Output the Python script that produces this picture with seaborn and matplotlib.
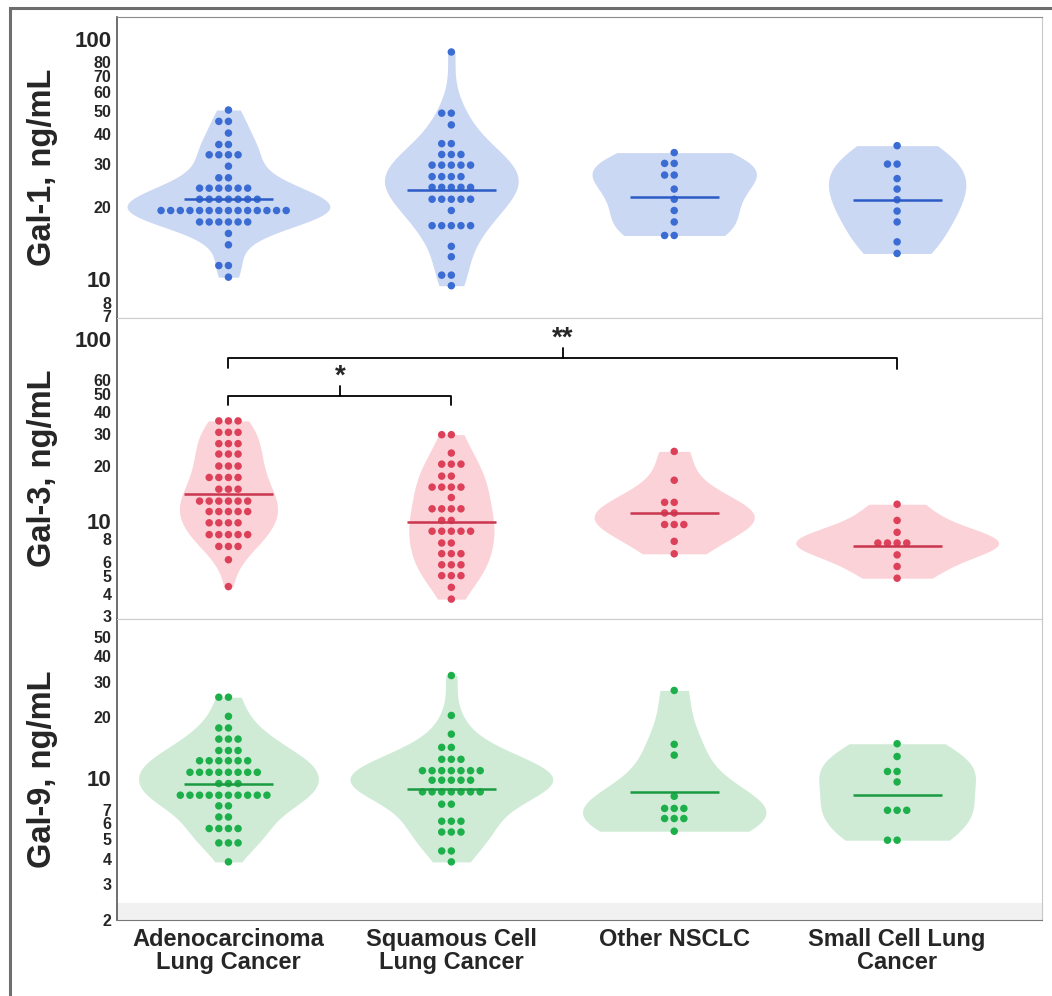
import numpy as np
import pandas as pd
import matplotlib
matplotlib.use("Agg")
import matplotlib.pyplot as plt
import seaborn as sns
from matplotlib.ticker import FixedLocator, FuncFormatter
from matplotlib.patches import Rectangle

# x categories
groups = ['Adenocarcinoma\nLung Cancer', 'Squamous Cell\nLung Cancer',
          'Other NSCLC', 'Small Cell Lung\nCancer']

# dot rows: value (ng/mL) of each row and number of dots in it
# Gal-1
gal1_adeno_levels = [50.5, 45.3, 40.5, 36.3, 32.9, 29.5, 26.4, 23.9, 21.5, 19.3, 17.3, 15.5, 13.9, 11.4, 10.2]
gal1_adeno_counts = [1, 2, 1, 2, 4, 1, 2, 6, 7, 14, 6, 1, 1, 2, 1]
gal1_squam_levels = [88.0, 49.0, 43.8, 36.6, 33.0, 29.8, 26.7, 24.1, 21.5, 19.3, 16.7, 13.7, 12.4, 10.4, 9.4]
gal1_squam_counts = [1, 2, 1, 2, 3, 5, 4, 5, 5, 1, 5, 1, 1, 2, 1]
gal1_other_levels = [33.6, 30.3, 27.1, 23.7, 21.5, 19.3, 17.3, 15.2]
gal1_other_counts = [1, 2, 2, 1, 1, 1, 1, 2]
gal1_small_levels = [35.9, 30.1, 26.2, 23.7, 21.4, 19.2, 17.3, 14.3, 12.8]
gal1_small_counts = [1, 2, 1, 1, 1, 1, 1, 1, 1]
gal1_medians = [21.6, 23.5, 22.0, 21.4]

# Gal-3
gal3_adeno_levels = [35.6, 30.8, 26.7, 23.4, 20.1, 17.4, 15.0, 12.9, 11.3, 9.8, 8.44, 7.27, 6.14, 4.37]
gal3_adeno_counts = [3, 3, 3, 3, 3, 4, 3, 6, 5, 4, 5, 3, 1, 1]
gal3_squam_levels = [29.9, 23.7, 20.6, 17.7, 15.4, 13.5, 11.7, 10.1, 8.81, 7.59, 6.63, 5.76, 5.02, 4.33, 3.73]
gal3_squam_counts = [2, 1, 3, 2, 4, 1, 4, 2, 5, 2, 3, 3, 3, 1, 1]
gal3_other_levels = [24.2, 16.8, 12.7, 11.1, 9.59, 7.75, 6.62]
gal3_other_counts = [1, 1, 2, 2, 3, 1, 1]
gal3_small_levels = [12.4, 10.1, 8.69, 7.59, 6.53, 5.64, 4.86]
gal3_small_counts = [1, 1, 1, 4, 1, 1, 1]
gal3_medians = [14.1, 9.87, 11.1, 7.28]

# Gal-9
gal9_adeno_levels = [25.1, 20.2, 17.7, 15.6, 13.7, 12.2, 10.7, 9.42, 8.25, 7.31, 6.44, 5.65, 4.80, 3.87]
gal9_adeno_counts = [2, 1, 2, 3, 3, 6, 8, 3, 10, 2, 2, 4, 3, 1]
gal9_squam_levels = [32.1, 20.4, 16.5, 14.2, 12.4, 10.9, 9.78, 8.57, 7.45, 6.14, 5.43, 4.38, 3.87]
gal9_squam_counts = [1, 1, 1, 2, 3, 7, 5, 7, 2, 3, 3, 2, 1]
gal9_other_levels = [27.1, 14.7, 13.0, 8.15, 7.10, 6.33, 5.48]
gal9_other_counts = [1, 1, 1, 1, 3, 3, 1]
gal9_small_levels = [14.8, 12.8, 10.8, 9.59, 6.95, 4.95]
gal9_small_counts = [1, 1, 2, 1, 3, 2]
gal9_medians = [9.42, 8.83, 8.57, 8.25]


def build_frame(levels_list, counts_list):
    rows = []
    for g, levels, counts in zip(groups, levels_list, counts_list):
        for v, c in zip(levels, counts):
            rows += [(g, v)] * c
    return pd.DataFrame(rows, columns=['group', 'value'])


def style_y_axis(ax, ylim, minor_ticks, minor_labels):
    ax.set_ylim(*ylim)
    ax.yaxis.set_major_locator(FixedLocator([10, 100]))
    ax.yaxis.set_major_formatter(FuncFormatter(lambda v, p: f"{v:g}"))
    ax.yaxis.set_minor_locator(FixedLocator(minor_ticks))
    ax.yaxis.set_minor_formatter(
        FuncFormatter(lambda v, p: f"{v:g}" if round(v) in minor_labels else ""))
    ax.tick_params(axis='y', which='major', direction='in', length=8.5, width=1.0,
                   labelsize=16, pad=4, color='#555555')
    ax.tick_params(axis='y', which='minor', direction='in', length=5, width=0.9,
                   labelsize=11.5, pad=4, color='#555555')


def draw_bracket(ax, x0, x1, y, drop_left, drop_right, tip, star_y, label):
    ax.plot([x0, x0, x1, x1], [drop_left, y, y, drop_right], color='black', lw=1.3,
            solid_joinstyle='round', zorder=5)
    xm = (x0 + x1) / 2
    ax.plot([xm, xm], [y, tip], color='black', lw=1.3, zorder=5)
    ax.text(xm, star_y, label, ha='center', va='center', fontsize=20,
            fontweight='bold', zorder=5)


def main():
    sns.set_style("white")
    plt.rcParams['font.family'] = ['Liberation Sans', 'DejaVu Sans']
    plt.rcParams['font.weight'] = 'bold'

    panels = [
        {
            'label': 'Gal-1, ng/mL',
            'df': build_frame([gal1_adeno_levels, gal1_squam_levels, gal1_other_levels, gal1_small_levels],
                              [gal1_adeno_counts, gal1_squam_counts, gal1_other_counts, gal1_small_counts]),
            'medians': gal1_medians,
            'fill': '#cbd8f3', 'dot': '#3a6cd3', 'line': '#2c5bc6',
            'ylim': (6.9, 123),
            'minor': [7, 8, 9, 20, 30, 40, 50, 60, 70, 80, 90],
            'minor_labels': {7, 8, 20, 30, 40, 50, 60, 70, 80},
        },
        {
            'label': 'Gal-3, ng/mL',
            'df': build_frame([gal3_adeno_levels, gal3_squam_levels, gal3_other_levels, gal3_small_levels],
                              [gal3_adeno_counts, gal3_squam_counts, gal3_other_counts, gal3_small_counts]),
            'medians': gal3_medians,
            'fill': '#fbd2d8', 'dot': '#dc4159', 'line': '#c9364e',
            'ylim': (2.9, 131),
            'minor': [3, 4, 5, 6, 7, 8, 9, 20, 30, 40, 50, 60, 70, 80, 90],
            'minor_labels': {3, 4, 5, 6, 8, 20, 30, 40, 50, 60},
        },
        {
            'label': 'Gal-9, ng/mL',
            'df': build_frame([gal9_adeno_levels, gal9_squam_levels, gal9_other_levels, gal9_small_levels],
                              [gal9_adeno_counts, gal9_squam_counts, gal9_other_counts, gal9_small_counts]),
            'medians': gal9_medians,
            'fill': '#cfebd6', 'dot': '#1daf4a', 'line': '#1b9a42',
            'ylim': (2, 61),
            'minor': [2, 3, 4, 5, 6, 7, 8, 9, 20, 30, 40, 50],
            'minor_labels': {2, 3, 4, 5, 6, 7, 20, 30, 40, 50},
        },
    ]

    fig = plt.figure(figsize=(10.52, 9.96), dpi=100)
    gs = fig.add_gridspec(3, 1, left=117 / 1052, right=1042 / 1052,
                          top=1 - 17 / 996, bottom=1 - 920 / 996, hspace=0)
    axes = [fig.add_subplot(gs[i]) for i in range(3)]

    for i, (ax, p) in enumerate(zip(axes, panels)):
        df = p['df']
        if i == 2:
            ax.axhspan(2, 2.42, color='#f1f1f1', lw=0, zorder=0)
        sns.violinplot(data=df, x='group', y='value', order=groups, ax=ax, log_scale=True,
                       cut=0, density_norm='area', width=0.91, inner=None, linewidth=0,
                       color=p['fill'], saturation=1)
        sns.swarmplot(data=df, x='group', y='value', order=groups, ax=ax, log_scale=True,
                      color=p['dot'], size=5.4, linewidth=1.2, edgecolor='none',
                      zorder=3)
        pos = np.arange(len(groups))
        ax.hlines(p['medians'], pos - 0.2, pos + 0.2, color=p['line'], lw=1.8, zorder=4)

        ax.set_xlim(-0.5, 3.65)
        style_y_axis(ax, p['ylim'], p['minor'], p['minor_labels'])
        ax.set_ylabel(p['label'], fontsize=23.5, fontweight='bold')
        ax.yaxis.set_label_coords(-0.064, 0.5)
        ax.set_xlabel('')

        ax.spines['left'].set_color('#555555')
        ax.spines['left'].set_linewidth(1.2)
        ax.spines['right'].set_color('#c8c8c8')
        ax.spines['top'].set_color('#8c8c8c' if i == 0 else '#cccccc')
        ax.spines['bottom'].set_color('#777777' if i == 2 else '#cccccc')
        for s in ax.spines.values():
            s.set_visible(True)

        if i < 2:
            ax.tick_params(axis='x', length=0, labelbottom=False)
        else:
            ax.set_xticks(pos)
            ax.set_xticklabels(groups, fontsize=17, fontweight='bold', linespacing=1.0)
            ax.tick_params(axis='x', length=0, pad=6)

    # significance brackets on the Gal-3 panel
    draw_bracket(axes[1], 0, 1, 48.5, 43.3, 43.3, 55.2, 62.0, '*')
    draw_bracket(axes[1], 0, 3, 78.5, 70, 69, 89.8, 100.5, '**')

    # outer frame of the figure (open on right and bottom)
    fig.add_artist(Rectangle((10 / 1052, -0.05), 1.1, 1 - 8 / 996 + 0.05,
                             transform=fig.transFigure, fill=False,
                             edgecolor='#6e6e6e', lw=2.2))

    fig.savefig('out.png', dpi=100)
    plt.close(fig)


if __name__ == '__main__':
    main()
